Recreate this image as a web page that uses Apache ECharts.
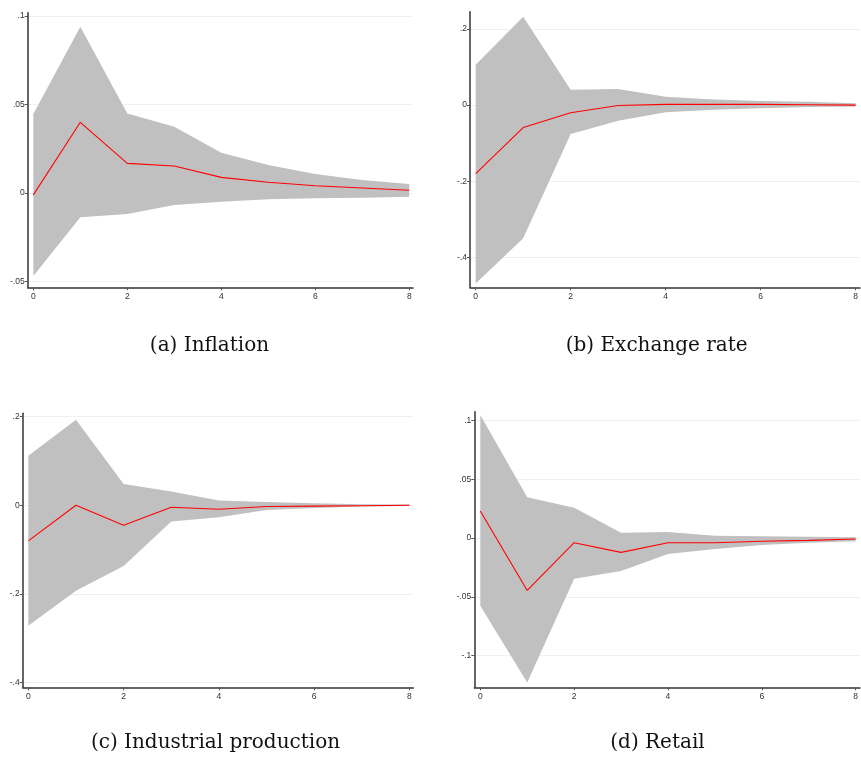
<!DOCTYPE html>
<html>
<head>
<meta charset="utf-8">
<script src="https://cdn.jsdelivr.net/npm/echarts@6/dist/echarts.min.js"></script>
<style>html,body{margin:0;padding:0;background:#fff;}#c{width:861px;height:760px;}</style>
</head>
<body>
<div id="c"></div>
<script>
// Horizon (x values)
var steps = [0, 1, 2, 3, 4, 5, 6, 7, 8];
var xTicks = [0, 2, 4, 6, 8];
var xTickLabels = ['0', '2', '4', '6', '8'];

// (a) Inflation
var inflIrf   = [-0.001, 0.040, 0.0168, 0.0153, 0.0089, 0.0061, 0.0042, 0.0029, 0.0016];
var inflUpper = [0.0447, 0.094, 0.045, 0.0375, 0.0228, 0.0159, 0.0108, 0.0074, 0.0051];
var inflLower = [-0.0468, -0.0137, -0.0118, -0.0067, -0.0049, -0.0035, -0.0029, -0.0026, -0.002];
var inflTicks = [-0.05, 0, 0.05, 0.1];
var inflTickLabels = ['-.05', '0', '.05', '.1'];

// (b) Exchange rate
var fxIrf   = [-0.180, -0.059, -0.020, -0.001, 0.002, 0.002, 0.002, 0.001, 0.0];
var fxUpper = [0.106, 0.232, 0.040, 0.042, 0.022, 0.015, 0.011, 0.009, 0.005];
var fxLower = [-0.469, -0.350, -0.076, -0.041, -0.019, -0.012, -0.008, -0.005, -0.004];
var fxTicks = [-0.4, -0.2, 0, 0.2];
var fxTickLabels = ['-.4', '-.2', '0', '.2'];

// (c) Industrial production
var ipIrf   = [-0.0806, 0.0, -0.045, -0.0045, -0.009, -0.003, -0.002, -0.001, 0.0];
var ipUpper = [0.112, 0.193, 0.048, 0.031, 0.0105, 0.0075, 0.0045, 0.002, 0.0015];
var ipLower = [-0.272, -0.193, -0.137, -0.037, -0.027, -0.0105, -0.006, -0.003, -0.0015];
var ipTicks = [-0.4, -0.2, 0, 0.2];
var ipTickLabels = ['-.4', '-.2', '0', '.2'];

// (d) Retail
var retIrf   = [0.0229, -0.0445, -0.004, -0.0122, -0.004, -0.004, -0.0028, -0.002, -0.0008];
var retUpper = [0.1045, 0.0346, 0.0258, 0.0045, 0.0051, 0.002, 0.0014, 0.0011, 0.0006];
var retLower = [-0.0575, -0.1227, -0.0346, -0.028, -0.0136, -0.0093, -0.006, -0.004, -0.0028];
var retTicks = [-0.1, -0.05, 0, 0.05, 0.1];
var retTickLabels = ['-.1', '-.05', '0', '.05', '.1'];

var panelTitles = ['(a) Inflation', '(b) Exchange rate', '(c) Industrial production', '(d) Retail'];

var panels = [
  {irf: inflIrf, up: inflUpper, lo: inflLower, ticks: inflTicks, labels: inflTickLabels,
   grid: {left: 27.7, top: 12.7, width: 385.3, height: 274.6}, xr: [-0.12, 8.08], yr: [-0.0532, 0.1019],
   title: [209.5, 346]},
  {irf: fxIrf, up: fxUpper, lo: fxLower, ticks: fxTicks, labels: fxTickLabels,
   grid: {left: 470, top: 11.7, width: 390, height: 275.6}, xr: [-0.12, 8.09], yr: [-0.479, 0.2455],
   title: [656.7, 346]},
  {irf: ipIrf, up: ipUpper, lo: ipLower, ticks: ipTicks, labels: ipTickLabels,
   grid: {left: 22.7, top: 413.3, width: 390.6, height: 274}, xr: [-0.118, 8.08], yr: [-0.4113, 0.2077],
   title: [215.5, 742.5]},
  {irf: retIrf, up: retUpper, lo: retLower, ticks: retTicks, labels: retTickLabels,
   grid: {left: 474.3, top: 411.7, width: 385.7, height: 275.6}, xr: [-0.128, 8.09], yr: [-0.1268, 0.1073],
   title: [657.5, 742.5]}
];

function labelFor(ticks, labels) {
  return function (v) {
    for (var i = 0; i < ticks.length; i++) {
      if (Math.abs(ticks[i] - v) < 1e-9) return labels[i];
    }
    return '';
  };
}

function bandRenderer(p) {
  return function (params, api) {
    if (params.dataIndex !== 0) return;
    var pts = [];
    for (var i = 0; i < steps.length; i++) pts.push(api.coord([steps[i], p.up[i]]));
    for (var j = steps.length - 1; j >= 0; j--) pts.push(api.coord([steps[j], p.lo[j]]));
    return {type: 'polygon', shape: {points: pts}, style: {fill: '#c0c0c0', stroke: null}, silent: true};
  };
}

var grids = [], xAxes = [], yAxes = [], series = [], graphics = [];
var axisColor = '#333333';
panels.forEach(function (p, k) {
  grids.push(Object.assign({containLabel: false}, p.grid));
  xAxes.push({
    type: 'value', gridIndex: k, min: p.xr[0], max: p.xr[1],
    axisLine: {show: true, onZero: false, lineStyle: {color: axisColor, width: 1.5}},
    axisTick: {show: true, length: 3, customValues: xTicks, lineStyle: {color: '#555'}},
    axisLabel: {customValues: xTicks, formatter: labelFor(xTicks, xTickLabels),
      fontFamily: 'Liberation Sans', fontSize: 8.5, color: '#333', margin: 5},
    splitLine: {show: false}
  });
  yAxes.push({
    type: 'value', gridIndex: k, min: p.yr[0], max: p.yr[1],
    axisLine: {show: true, onZero: false, lineStyle: {color: axisColor, width: 1.5}},
    axisTick: {show: true, length: 3, customValues: p.ticks, lineStyle: {color: '#555'}},
    axisLabel: {customValues: p.ticks, formatter: labelFor(p.ticks, p.labels),
      fontFamily: 'Liberation Sans', fontSize: 8.5, color: '#333', margin: 3},
    splitLine: {show: true, lineStyle: {color: '#eaf2f2', width: 1}}
  });
  series.push({
    type: 'custom', xAxisIndex: k, yAxisIndex: k,
    data: steps.map(function (s, i) { return [s, p.lo[i], p.up[i]]; }),
    encode: {x: 0, y: [1, 2]},
    renderItem: bandRenderer(p), silent: true, z: 1
  });
  series.push({
    type: 'line', xAxisIndex: k, yAxisIndex: k,
    data: steps.map(function (s, i) { return [s, p.irf[i]]; }),
    showSymbol: false, symbol: 'none', lineStyle: {color: '#ff0000', width: 1.1}, silent: true, z: 3
  });
  graphics.push({
    type: 'text', x: p.title[0], y: p.title[1],
    style: {text: panelTitles[k], font: '20px "DejaVu Serif"', fill: '#111',
      textAlign: 'center', textVerticalAlign: 'middle'}
  });
});

var chart = echarts.init(document.getElementById('c'), null, {renderer: 'canvas'});
chart.setOption({
  animation: false,
  backgroundColor: '#ffffff',
  grid: grids, xAxis: xAxes, yAxis: yAxes, series: series, graphic: graphics
});
</script>
</body>
</html>
